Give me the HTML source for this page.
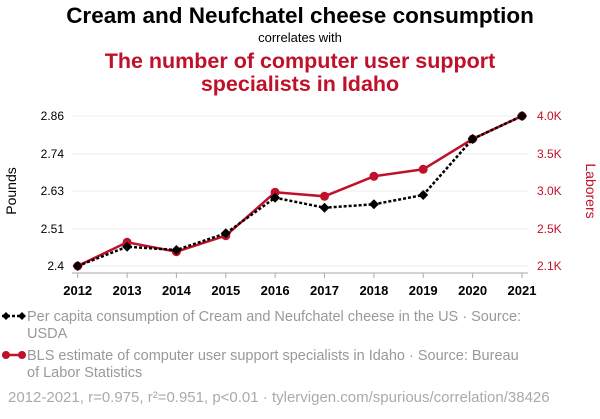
<!DOCTYPE html>
<html><head><style>body{margin:0;background:#fff;width:600px;height:414px;overflow:hidden}</style></head><body>
<svg width="600" height="414" xmlns="http://www.w3.org/2000/svg" font-family="Liberation Sans, sans-serif">
<text x="300" y="23" text-anchor="middle" font-size="22.5" font-weight="bold" fill="#000">Cream and Neufchatel cheese consumption</text>
<text x="300" y="42" text-anchor="middle" font-size="13" fill="#000">correlates with</text>
<text x="300" y="68" text-anchor="middle" font-size="21.5" font-weight="bold" fill="#c0102a">The number of computer user support</text>
<text x="300" y="91" text-anchor="middle" font-size="21.5" font-weight="bold" fill="#c0102a">specialists in Idaho</text>
<g stroke="#eee" stroke-width="1">
<line x1="72" x2="528" y1="116" y2="116"/><line x1="72" x2="528" y1="154" y2="154"/><line x1="72" x2="528" y1="191" y2="191"/><line x1="72" x2="528" y1="229" y2="229"/><line x1="72" x2="528" y1="266" y2="266"/>
</g>
<line x1="72" x2="528" y1="273" y2="273" stroke="#aaa"/>
<g stroke="#aaa"><line x1="77.7" x2="77.7" y1="273" y2="278"/><line x1="127.1" x2="127.1" y1="273" y2="278"/><line x1="176.4" x2="176.4" y1="273" y2="278"/><line x1="225.8" x2="225.8" y1="273" y2="278"/><line x1="275.1" x2="275.1" y1="273" y2="278"/><line x1="324.5" x2="324.5" y1="273" y2="278"/><line x1="373.9" x2="373.9" y1="273" y2="278"/><line x1="423.2" x2="423.2" y1="273" y2="278"/><line x1="472.6" x2="472.6" y1="273" y2="278"/><line x1="522" x2="522" y1="273" y2="278"/></g>
<g font-size="13" font-weight="bold" text-anchor="middle" fill="#000">
<text x="77.7" y="295">2012</text><text x="127.1" y="295">2013</text><text x="176.4" y="295">2014</text><text x="225.8" y="295">2015</text><text x="275.1" y="295">2016</text><text x="324.5" y="295">2017</text><text x="373.9" y="295">2018</text><text x="423.2" y="295">2019</text><text x="472.6" y="295">2020</text><text x="522" y="295">2021</text>
</g>
<g font-size="12" text-anchor="end" fill="#000">
<text x="64" y="120">2.86</text><text x="64" y="158">2.74</text><text x="64" y="195">2.63</text><text x="64" y="233">2.51</text><text x="64" y="270">2.4</text>
</g>
<g font-size="12" fill="#c0102a">
<text x="537" y="120">4.0K</text><text x="537" y="158">3.5K</text><text x="537" y="195">3.0K</text><text x="537" y="233">2.5K</text><text x="537" y="270">2.1K</text>
</g>
<text transform="translate(16,191) rotate(-90)" text-anchor="middle" font-size="14" fill="#000">Pounds</text>
<text transform="translate(586,191) rotate(90)" text-anchor="middle" font-size="14" fill="#c0102a">Laborers</text>
<polyline fill="none" stroke="#c0102a" stroke-width="2.5" points="77.7,266 127.1,242.3 176.4,251.7 225.8,235.7 275.1,192.3 324.5,196.3 373.9,176.3 423.2,169.3 472.6,139 522,116"/>
<g fill="#c0102a"><circle cx="77.7" cy="266" r="4.5"/><circle cx="127.1" cy="242.3" r="4.5"/><circle cx="176.4" cy="251.7" r="4.5"/><circle cx="225.8" cy="235.7" r="4.5"/><circle cx="275.1" cy="192.3" r="4.5"/><circle cx="324.5" cy="196.3" r="4.5"/><circle cx="373.9" cy="176.3" r="4.5"/><circle cx="423.2" cy="169.3" r="4.5"/><circle cx="472.6" cy="139" r="4.5"/><circle cx="522" cy="116" r="4.5"/></g>
<polyline fill="none" stroke="#000" stroke-width="2.5" stroke-dasharray="3,2" points="77.7,266 127.1,246.7 176.4,250 225.8,233.3 275.1,197.7 324.5,207.7 373.9,204.3 423.2,195 472.6,139 522,116"/>
<g fill="#000">
<path d="M77.7,261l5,5l-5,5l-5,-5z"/><path d="M127.1,241.7l5,5l-5,5l-5,-5z"/><path d="M176.4,245l5,5l-5,5l-5,-5z"/><path d="M225.8,228.3l5,5l-5,5l-5,-5z"/><path d="M275.1,192.7l5,5l-5,5l-5,-5z"/><path d="M324.5,202.7l5,5l-5,5l-5,-5z"/><path d="M373.9,199.3l5,5l-5,5l-5,-5z"/><path d="M423.2,190l5,5l-5,5l-5,-5z"/><path d="M472.6,134l5,5l-5,5l-5,-5z"/><path d="M522,111l5,5l-5,5l-5,-5z"/>
</g>
<line x1="2" x2="22" y1="316" y2="316" stroke="#000" stroke-width="2.5" stroke-dasharray="3,2"/>
<path d="M6,312l4,4l-4,4l-4,-4z" fill="#000"/><path d="M22,312l4,4l-4,4l-4,-4z" fill="#000"/>
<text x="27" y="321" font-size="14.5" fill="#999">Per capita consumption of Cream and Neufchatel cheese in the US · Source:</text>
<text x="27" y="338" font-size="14.5" fill="#999">USDA</text>
<line x1="2" x2="22" y1="355" y2="355" stroke="#c0102a" stroke-width="2.5"/>
<circle cx="6" cy="355" r="4" fill="#c0102a"/><circle cx="22" cy="355" r="4" fill="#c0102a"/>
<text x="27" y="360" font-size="14.5" fill="#999">BLS estimate of computer user support specialists in Idaho · Source: Bureau</text>
<text x="27" y="377" font-size="14.5" fill="#999">of Labor Statistics</text>
<text x="8" y="402" font-size="15" fill="#aaa">2012-2021, r=0.975, r²=0.951, p&lt;0.01 · tylervigen.com/spurious/correlation/38426</text>
</svg>
</body></html>
